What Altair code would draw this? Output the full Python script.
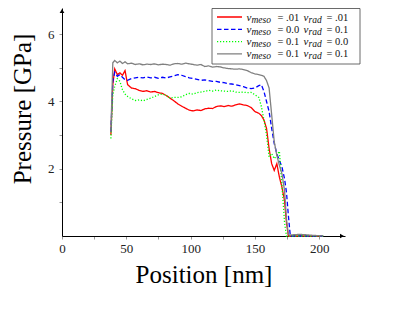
import altair as alt
import pandas as pd

# ---------------- data ----------------
positions = [38, 39.5, 41, 43, 45, 47, 49, 51,
             54, 57, 60, 63, 66, 69, 72, 75, 78, 81, 84, 87, 90, 93, 96, 99, 102, 105,
             108, 111, 114, 117, 120, 123, 126, 129, 132, 135, 138, 141, 144, 147, 150, 153,
             155, 157, 159, 161, 163, 165, 167, 169, 171, 173,
             174.5, 176, 177.5, 185, 195, 203]

p_red = [3.0, 4.5, 4.97, 4.8, 4.85, 4.78, 4.92, 4.5,
         4.4, 4.38, 4.33, 4.3, 4.32, 4.28, 4.3, 4.26, 4.24, 4.18,
         4.1, 4.02, 3.93, 3.86, 3.8, 3.74, 3.72, 3.75, 3.73, 3.78,
         3.8, 3.79, 3.85, 3.87, 3.85, 3.88, 3.86, 3.9, 3.93, 3.9,
         3.88, 3.82, 3.7, 3.65,
         3.58, 3.45, 3.2, 2.6, 2.15, 1.95, 2.15, 1.75, 1.45, 1.05,
         0.4, 0.0, 0.0, 0.0, 0.0, 0.0]

p_blue = [3.1, 4.6, 4.87, 4.75, 4.8, 4.72, 4.65, 4.63,
          4.68, 4.7, 4.72, 4.7, 4.73, 4.7, 4.72, 4.69, 4.72, 4.7,
          4.73, 4.76, 4.8, 4.78, 4.74, 4.7, 4.68, 4.66, 4.63, 4.64,
          4.62, 4.6, 4.6, 4.57, 4.56, 4.53, 4.52, 4.5, 4.47, 4.44,
          4.4, 4.38, 4.4, 4.47,
          4.5, 4.3, 4.0, 3.7, 3.2, 2.75, 2.45, 2.25, 2.05, 1.7,
          1.3, 0.6, 0.0, 0.0, 0.0, 0.0]

p_green = [2.9, 4.2, 4.45, 4.68, 4.6, 4.35, 4.22, 4.15,
           4.08, 4.03, 4.05, 4.02, 4.06, 4.1, 4.15, 4.2, 4.22, 4.18,
           4.1, 4.12, 4.12, 4.14, 4.2, 4.24, 4.22, 4.26, 4.28, 4.3,
           4.33, 4.31, 4.34, 4.32, 4.31, 4.3, 4.32, 4.28, 4.27, 4.28,
           4.26, 4.27, 4.2, 4.12,
           3.85, 3.45, 3.0, 2.35, 2.45, 2.3, 2.4, 2.52, 1.5, 0.4,
           0.0, 0.0, 0.0, 0.0, 0.0, 0.0]

p_gray = [3.1, 5.15, 5.22, 5.15, 5.2, 5.13, 5.18, 5.12,
          5.14, 5.1, 5.12, 5.09, 5.11, 5.1, 5.12, 5.09, 5.11, 5.1,
          5.08, 5.12, 5.13, 5.11, 5.14, 5.12, 5.1, 5.08, 5.1, 5.04,
          5.06, 5.02, 5.04, 5.03, 5.0, 4.98, 4.97, 4.96, 4.97, 4.95,
          4.92, 4.86, 4.82, 4.8,
          4.78, 4.75, 4.62, 4.4, 3.6, 2.8, 2.4, 2.1, 1.85, 1.35,
          0.5, 0.04, 0.03, 0.05, 0.02, 0.0]

legend_meso = [".01", "0.0", "0.1", "0.1"]
legend_rad = [".01", "0.1", "0.0", "0.1"]
legend_rows = [0, 1, 2, 3]

x_ticks = [0, 25, 50, 75, 100, 125, 150, 175, 200]
y_ticks = [1, 2, 3, 4, 5, 6]

# ---------------- styles ----------------
colors = ["#ff0000", "#0000ff", "#00ff00", "#808080"]
dashes = [[1, 0], [4.5, 2.5], [1.2, 1.8], [1, 0]]
SERIF = "Liberation Serif"
W, H = 283, 228

x_axis = alt.Axis(values=x_ticks, labelExpr="datum.value % 50 == 0 ? datum.label : ''",
                  grid=False, domainColor="black", domainWidth=1, tickColor="#999",
                  tickSize=3, labelFont=SERIF, labelFontSize=13, labelColor="#222",
                  labelPadding=3, labelFlush=False, labelOverlap=False,
                  title="Position [nm]", titleFont=SERIF, titleFontSize=25,
                  titleFontWeight="normal", titleColor="black", titleX=141.5, titleY=46.6,
                  titleBaseline="alphabetic", titleAlign="center")
y_axis = alt.Axis(values=y_ticks, labelExpr="datum.value % 2 == 0 ? datum.label : ''",
                  grid=False, domainColor="black", domainWidth=1, tickColor="#999",
                  tickSize=3, labelFont=SERIF, labelFontSize=13, labelColor="#222",
                  labelPadding=5, labelFlush=False, labelOverlap=False,
                  title="Pressure [GPa]", titleFont=SERIF, titleFontSize=25,
                  titleFontWeight="normal", titleColor="black", titleX=-32, titleY=100.5,
                  titleAngle=270, titleBaseline="alphabetic", titleAlign="center")

xs = alt.Scale(domain=[0, 220], nice=False)
ys = alt.Scale(domain=[0, 6.78], nice=False)

layers = []
for vals, col, dash in zip([p_red, p_blue, p_green, p_gray], colors, dashes):
    df = pd.DataFrame({"x": positions, "p": vals})
    layers.append(
        alt.Chart(df).mark_line(color=col, strokeDash=dash, strokeWidth=1.3, clip=False)
        .encode(x=alt.X("x:Q", scale=xs, axis=x_axis),
                y=alt.Y("p:Q", scale=ys, axis=y_axis))
    )

one = alt.Data(values=[{"a": 1}])
arrows = [
    alt.Chart(one).mark_point(shape="triangle-up", filled=True, size=22, color="black", opacity=1)
    .encode(x=alt.value(0), y=alt.value(3)),
    alt.Chart(one).mark_point(shape="triangle-right", filled=True, size=22, color="black", opacity=1)
    .encode(x=alt.value(W - 3), y=alt.value(H)),
]

# ---------------- legend ----------------
box = alt.Chart(one).mark_rect(fill="white", stroke="#444", strokeWidth=0.8).encode(
    x=alt.value(150), x2=alt.value(298), y=alt.value(0.5), y2=alt.value(56))

leg = alt.Chart(pd.DataFrame({"row": legend_rows, "meso": legend_meso, "rad": legend_rad})).transform_calculate(
    py="datum.row * 12.3 + 9", pyt="datum.row * 12.3 + 12.5", pys="datum.row * 12.3 + 14.5",
    t1="'= ' + datum.meso", t2="'= ' + datum.rad")

samples = leg.mark_rule(strokeWidth=1.3).encode(
    x=alt.value(155), x2=alt.value(180), y=alt.Y("py:Q", scale=None),
    color=alt.Color("row:O", scale=alt.Scale(domain=legend_rows, range=colors), legend=None),
    strokeDash=alt.StrokeDash("row:O", scale=alt.Scale(domain=legend_rows, range=dashes), legend=None))


def txt(xpos, ycol, text, size, italic):
    kw = dict(align="left", baseline="alphabetic", font=SERIF, fontSize=size, color="#111")
    if italic:
        kw["fontStyle"] = "italic"
    enc = dict(x=alt.value(xpos), y=alt.Y(ycol + ":Q", scale=None))
    if text.startswith("field:"):
        enc["text"] = alt.Text(text[6:] + ":N")
    else:
        enc["text"] = alt.value(text)
    return leg.mark_text(**kw).encode(**enc)


texts = [
    txt(184.5, "pyt", "ν", 11, True),
    txt(189.5, "pys", "meso", 9.5, True),
    txt(215.5, "pyt", "field:t1", 10.5, False),
    txt(241.5, "pyt", "ν", 11, True),
    txt(246.5, "pys", "rad", 9.5, True),
    txt(264.5, "pyt", "field:t2", 10.5, False),
]

chart = alt.layer(*layers, *arrows, box, samples, *texts).properties(
    width=W, height=H,
    autosize=alt.AutoSizeParams(type="none"),
    padding={"left": 54, "top": 0, "right": 20, "bottom": 62},
).configure_view(strokeWidth=0)

chart.save("out.html", embed_options={"renderer": "svg", "actions": False})
